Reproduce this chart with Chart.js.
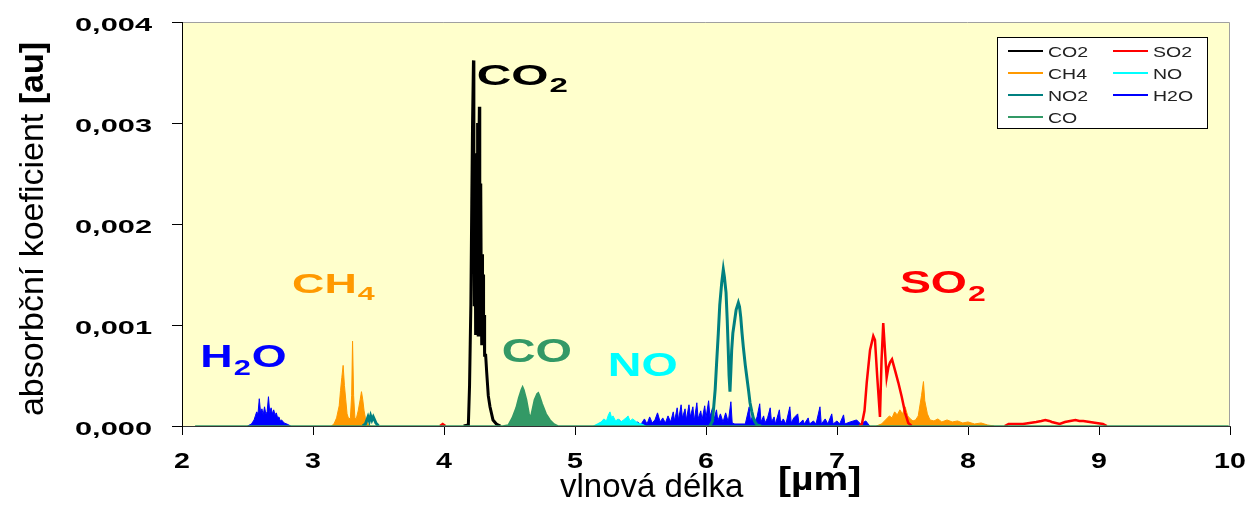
<!DOCTYPE html>
<html>
<head>
<meta charset="utf-8">
<script src="https://cdn.jsdelivr.net/npm/chart.js@4.4.1/dist/chart.umd.min.js"></script>
<style>
  html, body { margin: 0; padding: 0; background: #fff; }
  #wrap { width: 1250px; height: 508px; }
</style>
</head>
<body>
<div id="wrap"><canvas id="spektra" width="1250" height="508"></canvas></div>
<script>
// absorpční spektra plynů, [vlnová délka µm, absorbance]
var seriesNames = ['CO2', 'SO2', 'CH4', 'NO', 'NO2', 'H2O', 'CO'];
var seriesColors = ['#000000', '#FF0000', '#FF9900', '#00FFFF', '#008080', '#0000FF', '#339966'];

var co2 = [[4.15,0],[4.186,0.00001],[4.195,0.0004],[4.205,0.0012],[4.212,0.0022],[4.218,0.0030],
  [4.225,0.00362],[4.228,0.0024],[4.231,0.0012],[4.234,0.0019],[4.237,0.0027],[4.240,0.0016],
  [4.243,0.0009],[4.246,0.0021],[4.249,0.0013],[4.252,0.0024],[4.255,0.0030],[4.258,0.0014],
  [4.261,0.0009],[4.264,0.0019],[4.267,0.0026],[4.270,0.00316],[4.273,0.0020],[4.276,0.0011],
  [4.279,0.0018],[4.282,0.0024],[4.285,0.0012],[4.288,0.0008],[4.291,0.0017],[4.294,0.0011],
  [4.298,0.0015],[4.302,0.0008],[4.306,0.0011],[4.310,0.0007],[4.318,0.0007],[4.326,0.00053],
  [4.338,0.0003],[4.351,0.00019],[4.374,0.00006],[4.40,0.00002],[4.43,0]];

var so2 = [[3.97,0],[3.99,0.00002],[4.01,0],[5.0,null],
  [7.17,0],[7.19,0.00002],[7.21,0.00015],[7.227,0.00043],[7.252,0.00075],[7.277,0.00089],
  [7.29,0.00085],[7.307,0.00049],[7.328,0.00009],[7.34,0.00065],[7.353,0.00102],[7.366,0.00075],
  [7.379,0.00048],[7.392,0.00058],[7.405,0.00063],[7.42,0.00066],[7.443,0.00055],[7.468,0.00043],
  [7.494,0.00029],[7.52,0.00013],[7.544,0.00003],[7.57,0],[8.0,null],
  [8.28,0],[8.31,0.00002],[8.36,0.00002],[8.42,0.00002],[8.47,0.00003],[8.52,0.00004],
  [8.56,0.00005],[8.59,0.00006],[8.62,0.00005],[8.64,0.00004],[8.67,0.00003],[8.70,0.00002],
  [8.74,0.00004],[8.78,0.00005],[8.82,0.00006],[8.85,0.00005],[8.88,0.00005],[8.93,0.00004],
  [8.98,0.00003],[9.03,0.00002],[9.06,0]];

var ch4 = [[3.14,0],[3.16,0.00002],[3.18,0.00008],[3.20,0.0002],[3.21,0.00035],[3.22,0.00048],
  [3.23,0.0006],[3.24,0.0004],[3.25,0.00026],[3.26,0.00012],[3.27,0.00008],[3.285,0.00007],
  [3.295,0.0003],[3.302,0.00084],[3.31,0.0003],[3.32,0.00008],[3.33,0.00007],[3.345,0.00015],
  [3.36,0.00026],[3.37,0.00034],[3.38,0.00026],[3.39,0.00015],[3.40,0.00008],[3.42,0.00002],
  [3.44,0],[5.0,null],
  [7.30,0],[7.34,0.00002],[7.37,0.00006],[7.40,0.0001],[7.42,0.00008],[7.44,0.00014],
  [7.46,0.00011],[7.48,0.00016],[7.50,0.00012],[7.52,0.00019],[7.54,0.0001],[7.56,0.00007],
  [7.58,0.00005],[7.60,0.00006],[7.62,0.0001],[7.645,0.0003],[7.66,0.00044],[7.67,0.00025],
  [7.69,0.00012],[7.71,0.00006],[7.74,0.00005],[7.77,0.00007],[7.80,0.00004],[7.84,0.00006],
  [7.88,0.00004],[7.92,0.00005],[7.96,0.00003],[8.00,0.00004],[8.05,0.00002],[8.10,0.00003],
  [8.15,0.00001],[8.20,0]];

var no = [[5.14,0],[5.17,0.00002],[5.20,0.00004],[5.22,0.00007],[5.24,0.00005],[5.255,0.00011],
  [5.267,0.00014],[5.28,0.00008],[5.29,0.0001],[5.31,0.00005],[5.33,0.00007],[5.35,0.00004],
  [5.37,0.00006],[5.39,0.00008],[5.405,0.0001],[5.42,0.00005],[5.44,0.00007],[5.46,0.00005],
  [5.48,0.00003],[5.51,0.00002],[5.54,0]];

var no2 = [[3.38,0],[3.40,0.00002],[3.42,0.00009],[3.43,0.00005],[3.44,0.0001],[3.45,0.00006],
  [3.46,0.00009],[3.48,0.00003],[3.50,0],[5.0,null],
  [6.03,0],[6.05,0.00005],[6.07,0.00036],[6.08,0.0006],[6.094,0.00092],[6.105,0.0012],
  [6.12,0.00142],[6.132,0.00155],[6.14,0.00148],[6.153,0.00132],[6.162,0.00105],[6.17,0.00075],
  [6.176,0.0005],[6.183,0.00034],[6.19,0.00055],[6.196,0.00075],[6.205,0.00092],[6.216,0.00102],
  [6.23,0.00115],[6.247,0.00122],[6.256,0.00118],[6.265,0.00108],[6.275,0.00092],[6.285,0.00078],
  [6.30,0.0006],[6.311,0.00049],[6.325,0.00035],[6.336,0.00023],[6.35,0.00014],[6.361,0.00008],
  [6.375,0.00004],[6.39,0.00001],[6.42,0]];

var h2o = [[2.50,0],[2.53,0.00002],[2.55,0.00006],[2.56,0.0001],[2.57,0.00014],[2.58,0.00012],
  [2.59,0.00027],[2.60,0.00013],[2.61,0.00017],[2.62,0.00011],[2.63,0.00019],[2.64,0.00012],
  [2.65,0.00014],[2.66,0.00029],[2.67,0.00013],[2.68,0.00018],[2.69,0.00012],[2.70,0.00016],
  [2.71,0.00011],[2.72,0.00013],[2.73,0.00008],[2.74,0.00009],[2.75,0.00005],[2.76,0.00006],
  [2.78,0.00003],[2.80,0.00002],[2.83,0],[4.0,null],
  [5.15,0],[5.18,0.00002],[5.22,0.00005],[5.24,0.00001],[5.28,0.00004],[5.30,0.00001],
  [5.34,0.00006],[5.36,0.00001],[5.40,0.00003],[5.44,0.00002],[5.48,0.00004],[5.50,0.00001],
  [5.53,0.00007],[5.55,0.00002],[5.57,0.00009],[5.59,0.00003],[5.61,0.00006],[5.63,0.00013],
  [5.65,0.00004],[5.67,0.00008],[5.69,0.00003],[5.71,0.0001],[5.73,0.00004],[5.75,0.00014],
  [5.76,0.00005],[5.78,0.00018],[5.79,0.00006],[5.81,0.00021],[5.82,0.00008],[5.84,0.00017],
  [5.85,0.00006],[5.87,0.00021],[5.88,0.00009],[5.90,0.00019],[5.91,0.00005],[5.93,0.00023],
  [5.94,0.00007],[5.96,0.00015],[5.97,0.00006],[5.99,0.0002],[6.00,0.00008],[6.02,0.00025],
  [6.03,0.00009],[6.05,0.00018],[6.06,0.00006],[6.08,0.00016],[6.09,0.00005],[6.11,0.00012],
  [6.13,0.00004],[6.15,0.00013],[6.17,0.00004],[6.19,0.00024],[6.20,0.00003],[6.22,0.00002],
  [6.30,0.00002],[6.33,0.00019],[6.34,0.00004],[6.36,0.00012],[6.37,0.00003],[6.39,0.00009],
  [6.41,0.00022],[6.42,0.00004],[6.44,0.0001],[6.45,0.00003],[6.47,0.00008],[6.49,0.00018],
  [6.50,0.00004],[6.52,0.00009],[6.53,0.00002],[6.56,0.00016],[6.57,0.00003],[6.59,0.00007],
  [6.61,0.00002],[6.64,0.00019],[6.65,0.00003],[6.67,0.00008],[6.70,0.00012],[6.71,0.00002],
  [6.74,0.00006],[6.75,0.00002],[6.78,0.00008],[6.79,0.00002],[6.82,0.00005],[6.84,0.00002],
  [6.87,0.00019],[6.88,0.00002],[6.91,0.00007],[6.93,0.00002],[6.96,0.00012],[6.97,0.00002],
  [7.00,0.00005],[7.02,0.00002],[7.05,0.00011],[7.06,0.00002],[7.10,0.00004],[7.15,0.00006],
  [7.18,0.00002],[7.22,0.00005],[7.25,0]];

var co = [[2.1,0],[4.45,0],[4.49,0.00001],[4.52,0.00008],[4.55,0.00018],[4.57,0.00028],
  [4.59,0.00036],[4.60,0.00039],[4.61,0.00036],[4.63,0.00026],[4.65,0.00012],[4.66,0.00008],
  [4.67,0.00014],[4.69,0.00026],[4.71,0.00032],[4.72,0.00033],[4.73,0.0003],[4.75,0.00022],
  [4.78,0.00012],[4.81,0.00006],[4.84,0.00002],[4.87,0],[9.99,0]];

var yTicks = [0, 0.001, 0.002, 0.003, 0.004];
var xTicks = [2, 3, 4, 5, 6, 7, 8, 9, 10];

// popisky plynů v grafu (poloha v datových souřadnicích, druhý prvek 1 = dolní index)
var gasLabels = [
  { parts: [['H', 0], ['2', 1], ['O', 0]], x: 2.14, y: 0.000585, color: '#0000FF', size: 32, sx: 1.4 },
  { parts: [['CH', 0], ['4', 1]], x: 2.84, y: 0.00132, color: '#FF9900', size: 28, sx: 1.6 },
  { parts: [['CO', 0], ['2', 1]], x: 4.25, y: 0.00338, color: '#000000', size: 29, sx: 1.65 },
  { parts: [['CO', 0]], x: 4.44, y: 0.00063, color: '#339966', size: 33, sx: 1.42 },
  { parts: [['NO', 0]], x: 5.25, y: 0.0005, color: '#00FFFF', size: 34, sx: 1.37 },
  { parts: [['SO', 0], ['2', 1]], x: 7.48, y: 0.00132, color: '#FF0000', size: 32, sx: 1.45 }
];

var allSeries = [co2, so2, ch4, no, no2, h2o, co];
var filled = [false, false, true, true, false, true, true];
var widths = [3, 2.5, 1, 1, 3, 1, 1.5];
var drawOrder = [1, 2, 3, 4, 2, 5, 0];

function toPoints(arr) {
  return arr.map(function (p) { return { x: p[0], y: p[1] }; });
}

var datasets = seriesNames.map(function (name, i) {
  return {
    label: name,
    data: toPoints(allSeries[i]),
    borderColor: seriesColors[i],
    backgroundColor: seriesColors[i],
    borderWidth: widths[i],
    fill: filled[i] ? 'origin' : false,
    pointRadius: 0,
    tension: 0,
    order: drawOrder[i]
  };
});

var FONT = '"Liberation Sans", Arial, sans-serif';

function wideText(ctx, text, x, y, font, sx, align) {
  ctx.save();
  ctx.translate(x, y);
  ctx.scale(sx, 1);
  ctx.font = font;
  ctx.textAlign = align || 'left';
  ctx.textBaseline = 'alphabetic';
  ctx.fillText(text, 0, 0);
  var w = ctx.measureText(text).width * sx;
  ctx.restore();
  return w;
}

var decor = {
  id: 'decor',
  beforeDraw: function (chart) {
    var ctx = chart.ctx, a = chart.chartArea;
    ctx.save();
    ctx.fillStyle = '#ffffff';
    ctx.fillRect(0, 0, chart.width, chart.height);
    ctx.fillStyle = '#FFFFCC';
    ctx.fillRect(a.left, a.top, a.right - a.left, a.bottom - a.top);
    ctx.strokeStyle = '#a0a0a0';
    ctx.lineWidth = 1;
    ctx.beginPath();
    ctx.moveTo(a.left, a.top + 0.5);
    ctx.lineTo(a.right - 0.5, a.top + 0.5);
    ctx.lineTo(a.right - 0.5, a.bottom);
    ctx.stroke();
    ctx.restore();
  },
  afterDraw: function (chart) {
    var ctx = chart.ctx, a = chart.chartArea;
    var xs = chart.scales.x, ys = chart.scales.y;
    ctx.save();
    ctx.fillStyle = '#000';

    // popisky os
    yTicks.forEach(function (v) {
      wideText(ctx, v.toFixed(3).replace('.', ','), a.left - 30, ys.getPixelForValue(v) + 9,
        'bold 19px ' + FONT, 1.62, 'right');
    });
    xTicks.forEach(function (v) {
      wideText(ctx, String(v), xs.getPixelForValue(v), a.bottom + 42, 'bold 22px ' + FONT, 1.3, 'center');
    });

    // název osy y
    ctx.save();
    ctx.translate(43, (a.top + a.bottom) / 2 + 5);
    ctx.rotate(-Math.PI / 2);
    ctx.font = '34px ' + FONT;
    var t1 = 'absorbční koeficient ';
    var w1 = ctx.measureText(t1).width;
    ctx.font = 'bold 34px ' + FONT;
    var w2 = ctx.measureText('[au]').width;
    var start = -(w1 + w2) / 2;
    ctx.font = '34px ' + FONT;
    ctx.fillText(t1, start, 0);
    ctx.font = 'bold 34px ' + FONT;
    ctx.fillText('[au]', start + w1, 0);
    ctx.restore();

    // název osy x
    wideText(ctx, 'vlnová délka', 560, 497, '33px ' + FONT, 1.0, 'left');
    wideText(ctx, '[µm]', 778, 490, 'bold 34px ' + FONT, 1.15, 'left');

    // popisky plynů
    gasLabels.forEach(function (g) {
      var px = xs.getPixelForValue(g.x), py = ys.getPixelForValue(g.y);
      var subSize = Math.round(g.size * 0.68);
      ctx.fillStyle = g.color;
      g.parts.forEach(function (p) {
        if (p[1]) {
          px += wideText(ctx, p[0], px + 1, py + Math.round(g.size * 0.25), 'bold ' + subSize + 'px ' + FONT, g.sx, 'left') + 2;
        } else {
          px += wideText(ctx, p[0], px, py, 'bold ' + g.size + 'px ' + FONT, g.sx, 'left');
        }
      });
    });

    // legenda
    var lx = a.right - 233, ly = a.top + 15, lw = 210, lh = 91;
    ctx.fillStyle = '#ffffff';
    ctx.fillRect(lx, ly, lw, lh);
    ctx.strokeStyle = '#000';
    ctx.lineWidth = 1;
    ctx.strokeRect(lx + 0.5, ly + 0.5, lw, lh);
    seriesNames.forEach(function (name, i) {
      var col = i % 2, row = Math.floor(i / 2);
      var x0 = lx + 11 + col * 105, y0 = ly + 14 + row * 22;
      ctx.strokeStyle = seriesColors[i];
      ctx.lineWidth = 2;
      ctx.beginPath();
      ctx.moveTo(x0, y0);
      ctx.lineTo(x0 + 35, y0);
      ctx.stroke();
      ctx.fillStyle = '#222';
      wideText(ctx, name, x0 + 40, y0 + 6, '15px ' + FONT, 1.3, 'left');
    });
    ctx.restore();
  }
};

var chartData = {
  type: 'line',
  data: { datasets: datasets },
  options: {
    responsive: false,
    animation: false,
    layout: { padding: { left: 0, top: 22, right: 20, bottom: 0 } },
    plugins: { legend: { display: false }, tooltip: { enabled: false } },
    scales: {
      x: {
        type: 'linear',
        min: 2,
        max: 10,
        ticks: { stepSize: 1, color: 'rgba(0,0,0,0)' },
        grid: { drawOnChartArea: false, drawTicks: true, tickLength: 9, color: '#000' },
        border: { display: true, color: '#333', width: 1 },
        afterFit: function (s) { s.height = 82; }
      },
      y: {
        min: 0,
        max: 0.004,
        ticks: { stepSize: 0.001, color: 'rgba(0,0,0,0)' },
        grid: { drawOnChartArea: false, drawTicks: true, tickLength: 10, color: '#000' },
        border: { display: true, color: '#000', width: 1 },
        afterFit: function (s) { s.width = 182; }
      }
    }
  },
  plugins: [decor]
};

var myChart = new Chart(document.getElementById('spektra').getContext('2d'), chartData);
</script>
</body>
</html>
